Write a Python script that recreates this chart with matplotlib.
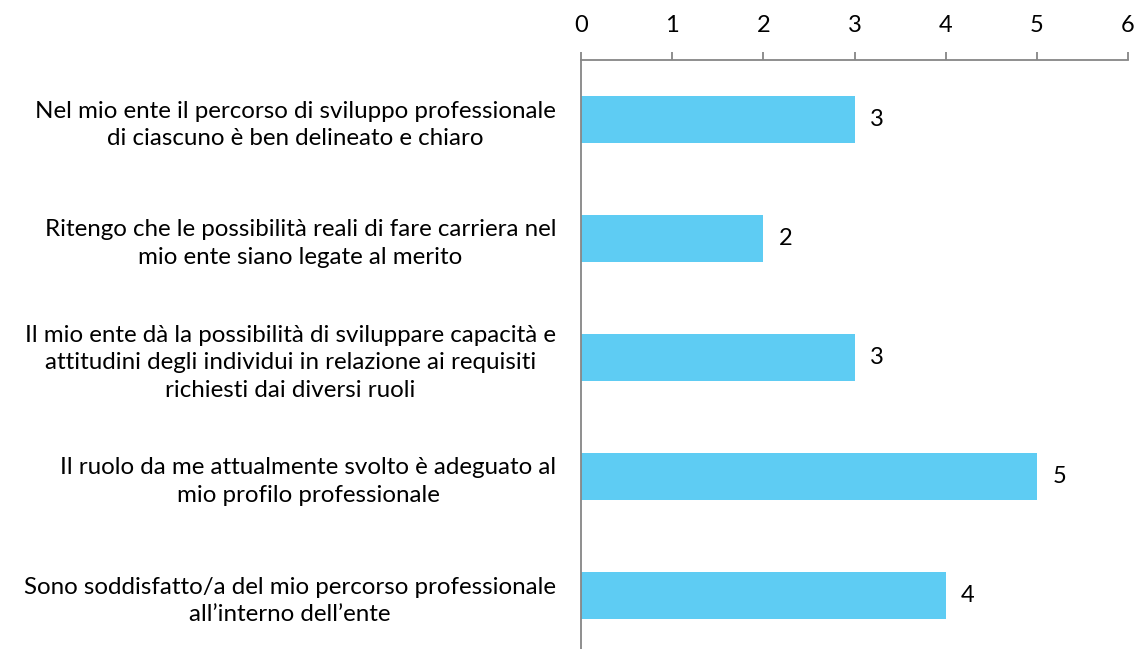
import matplotlib.pyplot as plt

# survey statements (top to bottom) and their counts
statements = [
    "Nel mio ente il percorso di sviluppo professionale\ndi ciascuno è ben delineato e chiaro",
    "Ritengo che le possibilità reali di fare carriera nel\nmio ente siano legate al merito",
    "Il mio ente dà la possibilità di sviluppare capacità e\nattitudini degli individui in relazione ai requisiti\nrichiesti dai diversi ruoli",
    "Il ruolo da me attualmente svolto è adeguato al\nmio profilo professionale",
    "Sono soddisfatto/a del mio percorso professionale\nall\u2019interno dell\u2019ente",
]
counts = [3, 2, 3, 5, 4]
x_ticks = [0, 1, 2, 3, 4, 5, 6]

plt.rcParams['font.family'] = ['Lato', 'DejaVu Sans']

fig = plt.figure(figsize=(11.39, 6.49), dpi=100)
ax = fig.add_axes([581 / 1139, (649 - 655) / 649, (1128 - 581) / 1139, 595 / 649])

pos = list(range(len(statements)))
ax.barh(pos, counts, height=0.4, color='#5ECCF3')
ax.set_ylim(4.5, -0.5)
ax.set_xlim(0, 6)
ax.set_xticks(x_ticks)
ax.set_yticks(pos)
ax.set_yticklabels(statements, multialignment='center', fontsize=17.4,
                   linespacing=1.4)

ax.xaxis.tick_top()
ax.tick_params(axis='x', direction='out', length=6, width=1.3, color='#868686',
               labelsize=17, pad=11)
ax.tick_params(axis='y', length=0, pad=18)

for s in ['right', 'bottom']:
    ax.spines[s].set_visible(False)
for s in ['top', 'left']:
    ax.spines[s].set_color('#868686')
    ax.spines[s].set_linewidth(1.3)

for y, v in zip(pos, counts):
    ax.text(v + 0.17, y, str(v), va='center', ha='left', fontsize=17)

fig.savefig('out.png', dpi=100)
